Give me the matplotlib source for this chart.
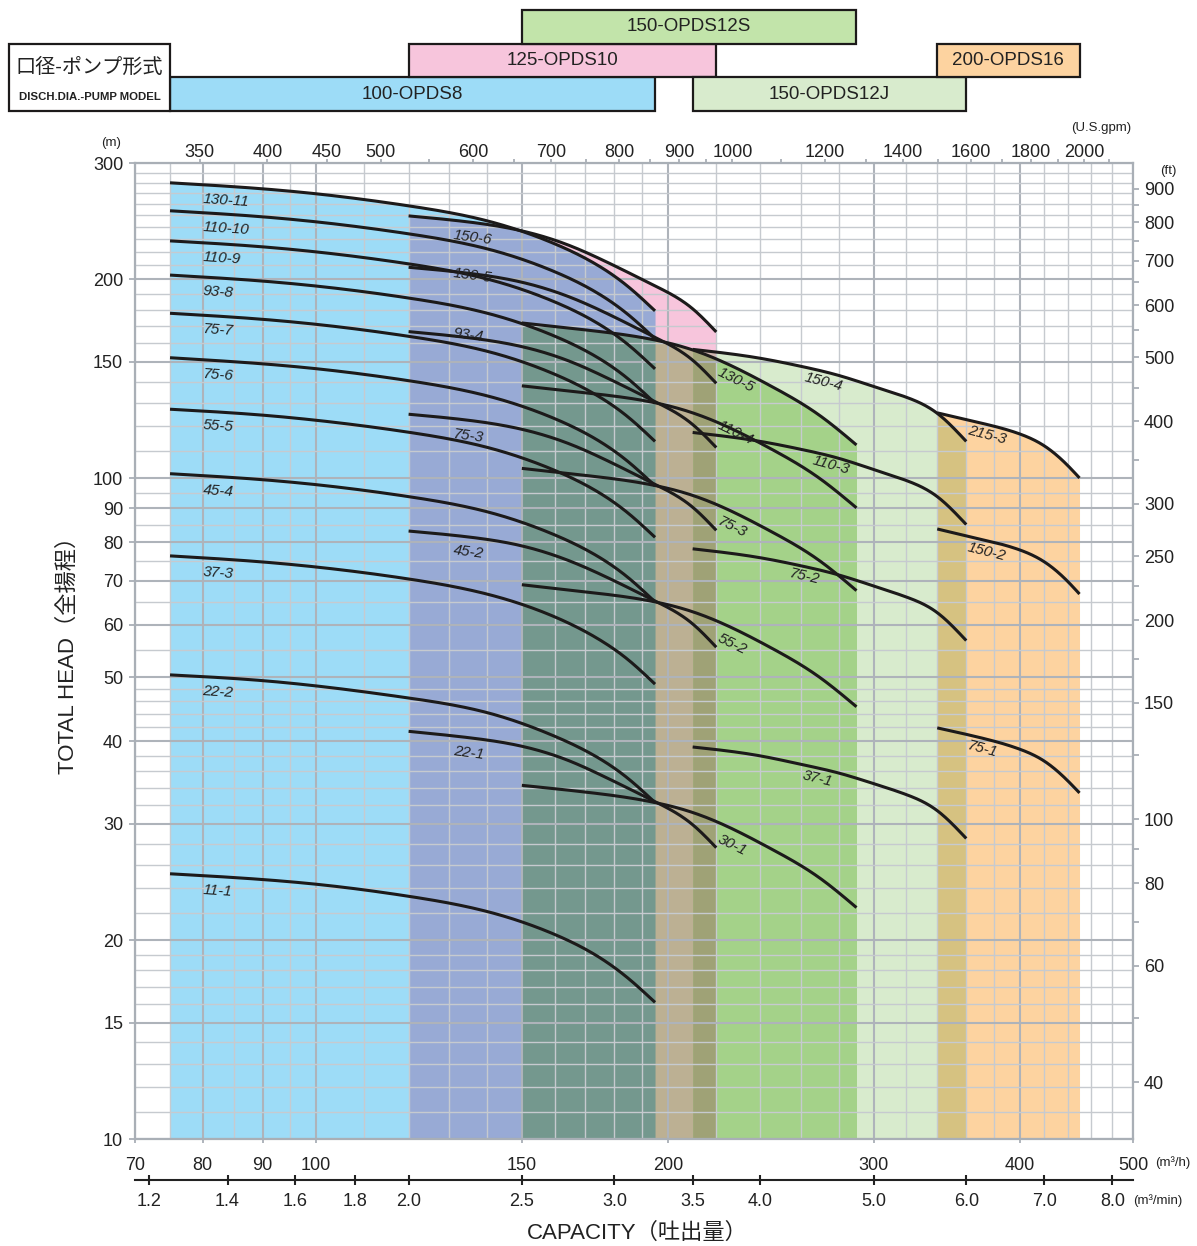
import numpy as np
import matplotlib
matplotlib.use("Agg")
import matplotlib.pyplot as plt
from matplotlib.patches import Rectangle
from matplotlib.ticker import FixedLocator, FixedFormatter, NullFormatter, NullLocator
from matplotlib import font_manager
from itertools import combinations

FAM = ['Liberation Sans', 'Noto Sans CJK JP', 'DejaVu Sans']
plt.rcParams['font.family'] = FAM

# ---------------------------------------------------------------- data
# 100-OPDS8  (capacity m3/h, total head m)
q_opds8 = [75, 90, 100, 120, 140, 160, 175, 185, 195]
names_opds8 = ['130-11', '110-10', '110-9', '93-8', '75-7', '75-6', '55-5', '45-4', '37-3', '22-2', '11-1']
h_opds8 = [
    [280.0, 274.2, 269.5, 258.4, 245.3, 226.4, 209.0, 194.9, 179.2],
    [254.0, 248.7, 244.4, 234.4, 222.5, 205.4, 189.6, 176.8, 162.6],
    [228.7, 224.0, 220.1, 211.1, 200.3, 184.9, 170.7, 159.2, 146.4],
    [203.0, 198.8, 195.4, 187.4, 177.8, 164.1, 151.5, 141.3, 129.9],
    [177.7, 174.0, 171.0, 164.0, 155.7, 143.7, 132.6, 123.7, 113.7],
    [152.2, 149.0, 146.5, 140.5, 133.3, 123.1, 113.6, 105.9, 97.4],
    [127.2, 124.6, 122.4, 117.4, 111.4, 102.8, 94.9, 88.5, 81.4],
    [101.6, 99.5, 97.8, 93.8, 89.0, 82.1, 75.8, 70.7, 65.0],
    [76.3, 74.7, 73.4, 70.4, 66.8, 61.7, 56.9, 53.1, 48.8],
    [50.4, 49.4, 48.5, 46.5, 44.2, 40.7, 37.6, 35.1, 32.3],
    [25.2, 24.7, 24.3, 23.3, 22.1, 20.4, 18.8, 17.5, 16.1],
]

# 125-OPDS10
q_opds10 = [120, 135, 150, 165, 175, 195, 210, 220]
names_opds10 = ['150-6', '130-5', '93-4', '75-3', '45-2', '22-1']
h_opds10 = [
    [249.5, 244.3, 236.8, 224.8, 214.8, 195.5, 180.5, 166.5],
    [208.6, 204.3, 198.0, 187.9, 179.6, 163.4, 150.9, 139.2],
    [166.7, 163.2, 158.2, 150.2, 143.5, 130.6, 120.6, 111.3],
    [125.0, 122.4, 118.6, 112.6, 107.6, 97.9, 90.4, 83.4],
    [83.2, 81.5, 79.0, 74.9, 71.6, 65.2, 60.2, 55.5],
    [41.4, 40.5, 39.3, 37.3, 35.6, 32.4, 29.9, 27.6],
]

# 150-OPDS12S
q_opds12s = [150, 170, 195, 210, 225, 245, 270, 290]
names_opds12s = ['130-5', '110-4', '75-3', '55-2', '30-1']
h_opds12s = [
    [171.8, 167.7, 161.9, 156.4, 148.9, 137.9, 124.3, 112.3],
    [138.0, 134.7, 130.1, 125.6, 119.6, 110.8, 99.8, 90.2],
    [103.5, 101.0, 97.5, 94.2, 89.7, 83.1, 74.9, 67.6],
    [69.0, 67.3, 65.0, 62.8, 59.8, 55.4, 49.9, 45.1],
    [34.3, 33.5, 32.3, 31.2, 29.7, 27.5, 24.8, 22.4],
]

# 150-OPDS12J
q_opds12j = [210, 240, 260, 280, 300, 320, 340, 360]
names_opds12j = ['150-4', '110-3', '75-2', '37-1']
h_opds12j = [
    [156.7, 151.9, 147.7, 143.1, 137.7, 132.6, 125.4, 113.7],
    [117.3, 113.7, 110.6, 107.2, 103.1, 99.2, 93.8, 85.1],
    [78.2, 75.8, 73.7, 71.4, 68.7, 66.1, 62.6, 56.8],
    [39.2, 38.0, 36.9, 35.8, 34.5, 33.2, 31.4, 28.5],
]

# 200-OPDS16
q_opds16 = [340, 370, 400, 420, 440, 450]
names_opds16 = ['215-3', '150-2', '75-1']
h_opds16 = [
    [125.6, 121.3, 116.7, 111.9, 104.4, 100.1],
    [83.8, 80.9, 77.9, 74.7, 69.7, 66.8],
    [41.9, 40.5, 38.9, 37.3, 34.8, 33.4],
]

model_names = ['100-OPDS8', '125-OPDS10', '150-OPDS12S', '150-OPDS12J', '200-OPDS16']

# axis ticks
y_major = [10, 15, 20, 30, 40, 50, 60, 70, 80, 90, 100, 150, 200, 300]
y_minor = [11, 12, 13, 14, 16, 17, 18, 19, 22, 24, 26, 28, 32, 34, 36, 38, 42, 44, 46, 48,
           55, 65, 75, 85, 95, 110, 120, 130, 140, 160, 170, 180, 190,
           210, 220, 230, 240, 250, 260, 270, 280, 290]
x_major = [70, 80, 90, 100, 150, 200, 300, 400, 500]
x_minor = [75, 85, 95, 110, 120, 130, 140, 160, 170, 180, 190, 220, 240, 260, 280,
           320, 340, 360, 380, 420, 440, 460, 480]
gpm_major = [350, 400, 450, 500, 600, 700, 800, 900, 1000, 1200, 1400, 1600, 1800, 2000]
gpm_minor = [550, 650, 750, 850, 950, 1100, 1300, 1500, 1700, 1900, 2100]
ft_major = [40, 60, 80, 100, 150, 200, 250, 300, 400, 500, 600, 700, 800, 900]
ft_minor = [50, 70, 90, 125, 175, 225, 350, 450, 550, 650, 750, 850]
min_major = [1.2, 1.4, 1.6, 1.8, 2.0, 2.5, 3.0, 3.5, 4.0, 5.0, 6.0, 7.0, 8.0]
min_labels = ['1.2', '1.4', '1.6', '1.8', '2.0', '2.5', '3.0', '3.5', '4.0', '5.0', '6.0', '7.0', '8.0']

GPM_PER_M3H = 4.40287
FT_PER_M = 3.28084

# ---------------------------------------------------------------- styles
model_colors = ['#9DDCF7', '#F7C5DC', '#C2E4AA', '#D8EBCD', '#FDD3A0']
model_rows = [0, 1, 2, 0, 1]
# curve label anchor (capacity at label start) and offset below the curve (px)
lab_q = [[80] * 11, [131] * 6, [221] * 5, [262, 266, 254, 261], [361] * 3]
lab_off = [[14] * 11, [15, 2, -3, 16, 15, 15], [11, 2, 15, 16, 16], [10, 8, 10, 10], [10, 11, 10]]

GRAY = '#A9AFB6'
GRID_MAJ = '#AEB3BA'
GRID_MIN = '#C6CACF'
TXT = '#222222'
LINE = '#1C1A1A'

W, H = 1197, 1246
fig = plt.figure(figsize=(W / 100, H / 100), dpi=100)
fig.patch.set_facecolor('white')
L, R, T, B = 135, 1133, 163, 1139
ax = fig.add_axes([L / W, 1 - B / H, (R - L) / W, (B - T) / H])
ax.set_xscale('log')
ax.set_yscale('log')
ax.set_xlim(70, 500)
ax.set_ylim(10, 300)


def smooth(qs, hs, qq):
    x = np.log10(np.asarray(qs, float))
    y = np.log10(np.asarray(hs, float))
    n = len(x)
    h = np.diff(x)
    A = np.zeros((n, n))
    r = np.zeros(n)
    A[0, 0] = A[-1, -1] = 1.0
    for i in range(1, n - 1):
        A[i, i - 1] = h[i - 1]
        A[i, i] = 2 * (h[i - 1] + h[i])
        A[i, i + 1] = h[i]
        r[i] = 3 * ((y[i + 1] - y[i]) / h[i] - (y[i] - y[i - 1]) / h[i - 1])
    c = np.linalg.solve(A, r)
    b = (y[1:] - y[:-1]) / h - h * (2 * c[:-1] + c[1:]) / 3
    d = (c[1:] - c[:-1]) / (3 * h)
    xq = np.log10(np.asarray(qq, float))
    idx = np.clip(np.searchsorted(x, xq) - 1, 0, n - 2)
    t = xq - x[idx]
    return 10 ** (y[idx] + b[idx] * t + c[idx] * t ** 2 + d[idx] * t ** 3)


series = [
    (names_opds8, q_opds8, h_opds8),
    (names_opds10, q_opds10, h_opds10),
    (names_opds12s, q_opds12s, h_opds12s),
    (names_opds12j, q_opds12j, h_opds12j),
    (names_opds16, q_opds16, h_opds16),
]

# ---- overlapping model ranges (multiplied colours)
rgb = [np.array(matplotlib.colors.to_rgb(c)) for c in model_colors]
for size in range(1, 6):
    for combo in combinations(range(5), size):
        lo = max(series[i][1][0] for i in combo)
        hi = min(series[i][1][-1] for i in combo)
        if lo >= hi:
            continue
        xs = np.geomspace(lo, hi, 300)
        top = np.min([smooth(series[i][1], series[i][2][0], xs) for i in combo], axis=0)
        col = np.prod([rgb[i] for i in combo], axis=0)
        ax.fill_between(xs, 10, top, color=col, lw=0, zorder=1)

# ---- grid / ticks
ax.xaxis.set_major_locator(FixedLocator(x_major))
ax.xaxis.set_major_formatter(FixedFormatter([str(v) for v in x_major]))
ax.xaxis.set_minor_locator(FixedLocator(x_minor))
ax.xaxis.set_minor_formatter(NullFormatter())
ax.yaxis.set_major_locator(FixedLocator(y_major))
ax.yaxis.set_major_formatter(FixedFormatter([str(v) for v in y_major]))
ax.yaxis.set_minor_locator(FixedLocator(y_minor))
ax.yaxis.set_minor_formatter(NullFormatter())
ax.grid(True, which='major', color=GRID_MAJ, lw=1.5, zorder=2)
ax.grid(True, which='minor', color=GRID_MIN, lw=1.0, zorder=2)
ax.tick_params(axis='y', which='major', direction='out', length=4, width=1.3, color=GRAY,
               pad=4.5, labelsize=13, labelcolor=TXT)
ax.tick_params(axis='x', which='major', direction='out', length=3, width=1.3, color=GRAY,
               pad=10, labelsize=13, labelcolor=TXT)
ax.tick_params(which='minor', length=0)
for s in ax.spines.values():
    s.set_color(GRAY)
    s.set_linewidth(1.6)

# ---- curves and labels
for (names, qs, hs), lq, lo_ in zip(series, lab_q, lab_off):
    qq = np.geomspace(qs[0], qs[-1], 250)
    for name, hv, q0, off in zip(names, hs, lq, lo_):
        ax.plot(qq, smooth(qs, hv, qq), color=LINE, lw=2.2, zorder=4, solid_capstyle='butt')
        h0 = float(smooth(qs, hv, [q0])[0])
        q1 = min(q0 * 1.09, qs[-1])
        h1 = float(smooth(qs, hv, [q1])[0])
        p0 = ax.transData.transform((q0, h0))
        p1 = ax.transData.transform((q1, h1))
        ang = np.degrees(np.arctan2(p1[1] - p0[1], p1[0] - p0[0]))
        ax.annotate(name, xy=(q0, h0), xytext=(0, -off * 0.72), textcoords='offset points',
                    ha='left', va='center', rotation=ang, rotation_mode='anchor',
                    fontsize=11, fontstyle='italic', color='#222222', zorder=5)

# ---- top axis (U.S. gpm)
ax_t = ax.twiny()
ax_t.set_xscale('log')
ax_t.set_xlim(70 * GPM_PER_M3H, 500 * GPM_PER_M3H)
ax_t.xaxis.set_major_locator(FixedLocator(gpm_major))
ax_t.xaxis.set_major_formatter(FixedFormatter([str(v) for v in gpm_major]))
ax_t.xaxis.set_minor_locator(FixedLocator(gpm_minor))
ax_t.xaxis.set_minor_formatter(NullFormatter())
ax_t.tick_params(axis='x', which='both', direction='out', length=3, width=1.3, color=GRAY,
                 pad=-1.5, labelsize=13, labelcolor=TXT)
for s in ax_t.spines.values():
    s.set_visible(False)

# ---- right axis (ft)
ax_r = ax.twinx()
ax_r.set_yscale('log')
ax_r.set_ylim(10 * FT_PER_M, 300 * FT_PER_M)
ax_r.yaxis.set_major_locator(FixedLocator(ft_major))
ax_r.yaxis.set_major_formatter(FixedFormatter([str(v) for v in ft_major]))
ax_r.yaxis.set_minor_locator(FixedLocator(ft_minor))
ax_r.yaxis.set_minor_formatter(NullFormatter())
ax_r.tick_params(axis='y', which='both', direction='out', length=4, width=1.3, color=GRAY,
                 pad=4, labelsize=13, labelcolor=TXT)
for s in ax_r.spines.values():
    s.set_visible(False)

# ---- second bottom axis (m3/min)
ax_m = fig.add_axes([L / W, 1 - 1179.5 / H, (R - L) / W, 0.0004])
ax_m.set_xscale('log')
ax_m.set_xlim(70 / 60, 500 / 60)
ax_m.patch.set_visible(False)
ax_m.set_yticks([])
for k in ('top', 'left', 'right'):
    ax_m.spines[k].set_visible(False)
ax_m.spines['bottom'].set_color('#222222')
ax_m.spines['bottom'].set_linewidth(1.5)
ax_m.xaxis.set_major_locator(FixedLocator(min_major))
ax_m.xaxis.set_major_formatter(FixedFormatter(min_labels))
ax_m.xaxis.set_minor_locator(NullLocator())
ax_m.tick_params(axis='x', direction='inout', length=7, width=1.5, color='#222222',
                 pad=6.5, labelsize=13, labelcolor=TXT)

# ---- header with model ranges
ax_h = fig.add_axes([L / W, 1 - 111 / H, (R - L) / W, 101 / H])
ax_h.set_xscale('log')
ax_h.set_xlim(70, 500)
ax_h.set_ylim(0, 3)
ax_h.axis('off')
for (names, qs, hs), mname, row, col in zip(series, model_names, model_rows, model_colors):
    ax_h.add_patch(Rectangle((qs[0], row), qs[-1] - qs[0], 1, facecolor=col,
                             edgecolor='#1C1A1A', lw=1.6, clip_on=False))
    ax_h.text(np.sqrt(qs[0] * qs[-1]), row + 0.5, mname, ha='center', va='center',
              fontsize=13.5, color=TXT)

lx = np.log10(70)
span = np.log10(500) - lx
x_right = (np.log10(q_opds8[0]) - lx) / span
x_left = (9 - L) / (R - L)
ax_h.add_patch(Rectangle((x_left, 0), x_right - x_left, 2 / 3, transform=ax_h.transAxes,
                         facecolor='white', edgecolor='#1C1A1A', lw=1.6, clip_on=False))
xc = (x_left + x_right) / 2
ax_h.text(xc, (111 - 67) / 101, '口径-ポンプ形式', transform=ax_h.transAxes, ha='center',
          va='center', fontsize=14.5, color=TXT)
avail = {f.name for f in font_manager.fontManager.ttflist}
if 'Liberation Sans Narrow' in avail:
    small_fam, small_size = ['Liberation Sans Narrow'], 9.6
elif 'DejaVu Sans Condensed' in avail:
    small_fam, small_size = ['DejaVu Sans Condensed'], 8.4
else:
    small_fam, small_size = ['Liberation Sans'], 8.2
ax_h.text(xc, (111 - 97) / 101, 'DISCH.DIA.-PUMP MODEL', transform=ax_h.transAxes,
          ha='center', va='center', fontsize=small_size, fontweight='bold',
          family=small_fam, color=TXT)

# ---- unit texts and axis titles
fig.text(111 / W, 1 - 143 / H, '(m)', ha='center', va='center', fontsize=9.5, color=TXT)
fig.text(1101 / W, 1 - 128 / H, '(U.S.gpm)', ha='center', va='center', fontsize=9.5, color=TXT)
fig.text(1168 / W, 1 - 171 / H, '(ft)', ha='center', va='center', fontsize=9.5, color=TXT)
fig.text(1155 / W, 1 - 1163 / H, '(m³/h)', ha='left', va='center', fontsize=9.5, color=TXT)
fig.text(1133 / W, 1 - 1201 / H, '(m³/min)', ha='left', va='center', fontsize=9.5, color=TXT)
fig.text(68 / W, 1 - 650 / H, 'TOTAL HEAD（全揚程）', rotation=90, ha='center', va='center',
         fontsize=16, color=TXT)
fig.text(637 / W, 1 - 1233 / H, 'CAPACITY（吐出量）', ha='center', va='center',
         fontsize=16, color=TXT)

fig.savefig('out.png', dpi=100, facecolor='white')
